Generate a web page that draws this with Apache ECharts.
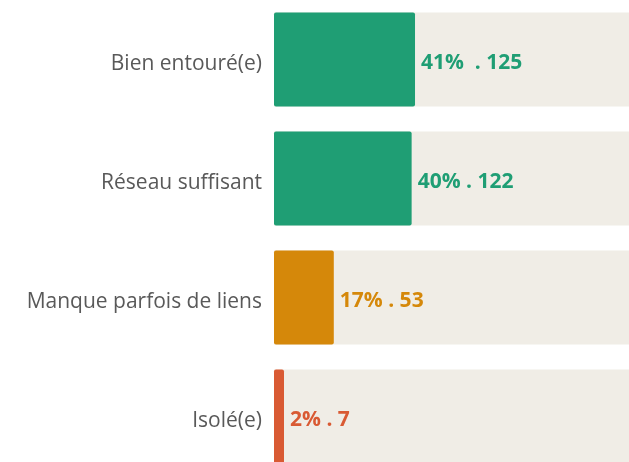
<!DOCTYPE html>
<html>
<head>
<meta charset="utf-8">
<script src="https://cdn.jsdelivr.net/npm/echarts@6/dist/echarts.min.js"></script>
<style>
  html, body { margin: 0; padding: 0; background: #fff; }
  #chart { width: 629px; height: 462px; }
</style>
</head>
<body>
<div id="chart"></div>
<script>
// categories (top to bottom)
const categories = ['Bien entouré(e)', 'Réseau suffisant', 'Manque parfois de liens', 'Isolé(e)']
// number of answers
const counts = [125, 122, 53, 7]
// labels shown next to the bars
const valueLabels = ['41%  . 125', '40% . 122', '17% . 53', '2% . 7']
const barColors = ['#1f9e74', '#1f9e74', '#d5880a', '#d95a33']

const chart = echarts.init(document.getElementById('chart'))

const option = {
  animation: false,
  grid: {
    left: 274,
    top: 0,
    width: 361,
    height: 476,
    outerBoundsMode: 'none',
    containLabel: false
  },
  xAxis: {
    type: 'value',
    min: 0,
    max: 320,
    show: false
  },
  yAxis: {
    type: 'category',
    inverse: true,
    data: categories,
    axisLine: { show: false },
    axisTick: { show: false },
    axisLabel: {
      margin: 12,
      formatter: v => '{t|' + v + '}',
      rich: {
        t: {
          fontFamily: 'Open Sans',
          fontSize: 21,
          color: '#595959',
          padding: [9, 0, 0, 0]
        }
      }
    }
  },
  series: [
    {
      type: 'bar',
      barWidth: 94,
      barMinHeight: 10,
      showBackground: true,
      backgroundStyle: { color: '#f0ede6' },
      data: counts.map((v, i) => ({
        value: v,
        itemStyle: { color: barColors[i], borderRadius: 2 },
        label: { color: barColors[i] }
      })),
      label: {
        show: true,
        position: 'right',
        distance: 6,
        offset: [0, 4],
        fontFamily: 'Open Sans',
        fontWeight: 'bold',
        fontSize: 21,
        formatter: p => valueLabels[p.dataIndex]
      }
    }
  ]
}

chart.setOption(option)
</script>
</body>
</html>
